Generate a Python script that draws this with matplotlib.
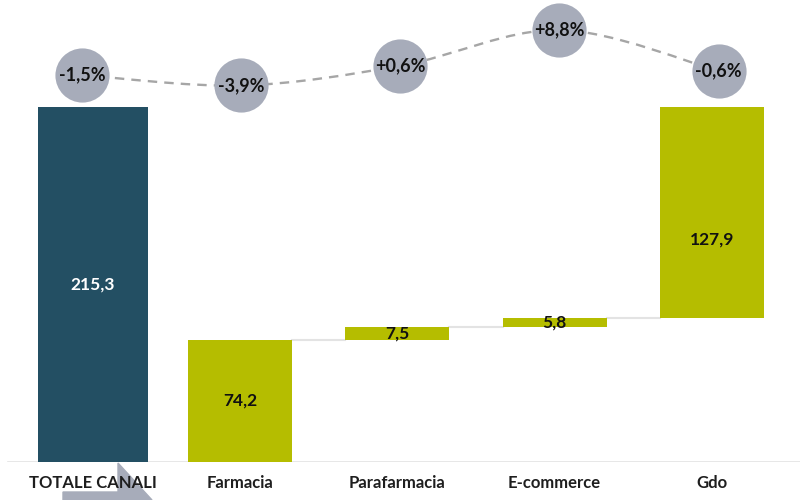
import numpy as np
import matplotlib
matplotlib.use("Agg")
import matplotlib.pyplot as plt
from matplotlib.path import Path
from matplotlib.patches import PathPatch, Polygon

categories = ["TOTALE CANALI", "Farmacia", "Parafarmacia", "E-commerce", "Gdo"]
values = [215.3, 74.2, 7.5, 5.8, 127.9]
value_labels = ["215,3", "74,2", "7,5", "5,8", "127,9"]
pct = [-1.5, -3.9, 0.6, 8.8, -0.6]
pct_labels = ["-1,5%", "-3,9%", "+0,6%", "+8,8%", "-0,6%"]

TEAL = "#234F63"
OLIVE = "#B5BD00"
CIRCLE = "#A7ACBA"
FONT = ["Lato", "DejaVu Sans"]

W, H = 800, 500
fig = plt.figure(figsize=(W / 100, H / 100), dpi=100)
ax = fig.add_axes([0, 38 / H, 1, 462 / H])
ax.set_xlim(-0.526, 4.56)
ax.set_ylim(0, 280.2)
ax.axis("off")

# waterfall bottoms
bottoms = [0.0]
running = 0.0
for v in values[1:]:
    bottoms.append(running)
    running += v

x = np.arange(len(categories))
widths = [0.70] + [0.661] * 4
offsets = [0.065] + [0.0] * 4
colors = [TEAL] + [OLIVE] * 4
label_frac = [0.5, 0.5, 0.5, 0.5, 0.37]
label_col = ["white", "#111111", "#111111", "#111111", "#111111"]

for i in range(len(categories)):
    xc = x[i] + offsets[i]
    ax.bar(xc, values[i], bottom=bottoms[i], width=widths[i], color=colors[i],
           zorder=3)
    ax.text(xc, bottoms[i] + values[i] * label_frac[i], value_labels[i],
            ha="center", va="center", fontsize=12.5, fontweight="bold",
            color=label_col[i], family=FONT, zorder=5)

# connectors
for i in range(1, len(categories) - 1):
    top = bottoms[i] + values[i]
    ax.plot([x[i] + widths[i] / 2, x[i + 1] - widths[i + 1] / 2], [top, top],
            color="#E3E3E3", lw=1.5, zorder=2)

# baseline
ax.axhline(0, xmin=0.01, xmax=1, color="#E3E3E3", lw=1.2, zorder=2)

# category labels
for i, c in enumerate(categories):
    ax.text(x[i] + offsets[i], -12.8, c, ha="center", va="center", fontsize=12,
            fontweight="bold", color="#1E1E1E", family=FONT, zorder=6,
            clip_on=False)

# percentage series on secondary axis
ax2 = ax.twinx()
ax2.set_ylim(-90.06, 15.66)
ax2.axis("off")
xp = x * 1.012 - 0.005
yp = np.array(pct)

# smooth dashed line via cubic Bezier (Catmull-Rom style control points)
verts = [(xp[0], yp[0])]
codes = [Path.MOVETO]
n = len(xp)
for i in range(n - 1):
    p0 = np.array([xp[max(i - 1, 0)], yp[max(i - 1, 0)]])
    p1 = np.array([xp[i], yp[i]])
    p2 = np.array([xp[i + 1], yp[i + 1]])
    p3 = np.array([xp[min(i + 2, n - 1)], yp[min(i + 2, n - 1)]])
    c1 = p1 + (p2 - p0) / 6
    c2 = p2 - (p3 - p1) / 6
    verts += [tuple(c1), tuple(c2), tuple(p2)]
    codes += [Path.CURVE4] * 3
ax2.add_patch(PathPatch(Path(verts, codes), fill=False, edgecolor="#A6A6A6",
                        lw=1.7, linestyle=(0, (4, 3)), zorder=3))
ax2.scatter(xp, yp, s=39 ** 2, color=CIRCLE, zorder=4, linewidths=0)
for i in range(n):
    ax2.text(xp[i], yp[i], pct_labels[i], ha="center", va="center",
             fontsize=13, fontweight="bold", color="#111111", family=FONT,
             zorder=5)

# decorative arrow at bottom left (partially cut), behind the texts
arrow = Polygon([(63 / W, 0), (63 / W, 8 / H), (118 / W, 8 / H),
                 (118 / W, 37 / H), (152 / W, 0)], closed=True,
                transform=fig.transFigure, color=CIRCLE, zorder=-1)
fig.patches.append(arrow)

fig.savefig("out.png", dpi=100)
